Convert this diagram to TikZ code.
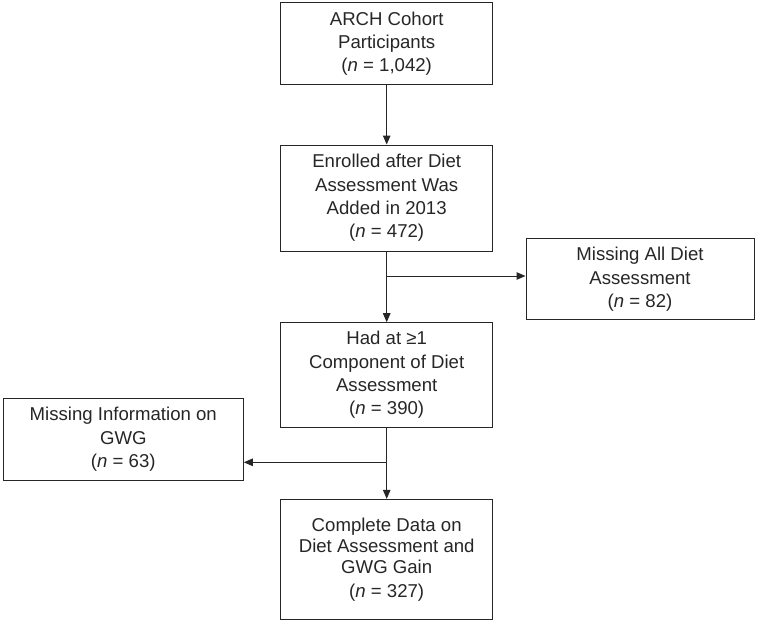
\documentclass[tikz,border=0pt]{standalone}
\usepackage{fontspec}
\setmainfont{Liberation Sans}
\usetikzlibrary{arrows.meta}
\begin{document}
\begin{tikzpicture}[x=1pt,y=-1pt,
  box/.style={draw=black!85, line width=1pt, align=center, inner sep=0pt,
    font=\fontsize{18.6}{23.3}\selectfont, text=black!85},
  conn/.style={draw=black!85, line width=1pt},
  arr/.style={conn, -{Triangle[length=9pt,width=7.5pt]}}]
\useasboundingbox (0,0) rectangle (757,630);
\node[box, minimum width=212pt, minimum height=81.6pt] (b1) at (386.7,43.5)
  {ARCH Cohort\\Participants\\ (\textit{n} = 1,042)};
\node[box, minimum width=212pt, minimum height=106pt] (b2) at (386.7,198)
  {Enrolled after Diet\\Assessment Was\\Added in 2013\\ (\textit{n} = 472)};
\node[box, minimum width=228pt, minimum height=81.3pt] (b3) at (640,279.3)
  {Missing All Diet\\Assessment\\ (\textit{n} = 82)};
\node[box, minimum width=212pt, minimum height=104.6pt] (b4) at (386.7,375)
  {Had at ≥1\\Component of Diet\\Assessment\\ (\textit{n} = 390)};
\node[box, minimum width=240pt, minimum height=81.7pt] (b5) at (123.3,439.2)
  {Missing Information on\\GWG\\ (\textit{n} = 63)};
\node[box, minimum width=212pt, minimum height=119.7pt,
  font=\fontsize{18.6}{21}\selectfont] (b6) at (386.7,559.2)
  {Complete Data on\\Diet Assessment and\\GWG Gain\\[3pt] (\textit{n} = 327)};
\coordinate (j1) at (386.7,276);
\coordinate (j2) at (386.7,462.3);
\draw[arr] (b1) -- (b2);
\draw[arr] (b2) -- (b4);
\draw[arr] (j1) -- (j1 -| b3.west);
\draw[arr] (b4) -- (b6);
\draw[arr] (j2) -- (j2 -| b5.east);
\end{tikzpicture}
\end{document}
